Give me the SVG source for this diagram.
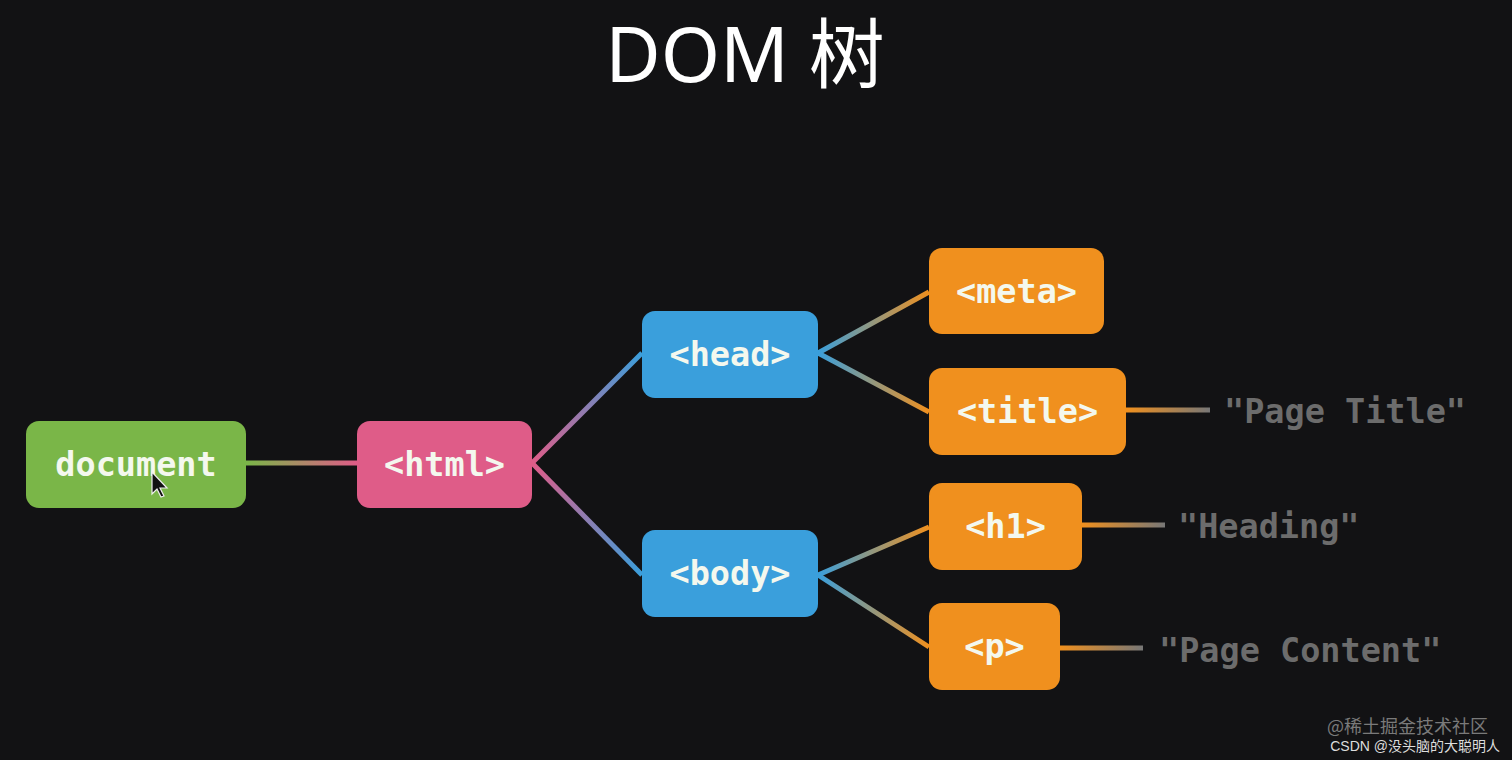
<svg xmlns="http://www.w3.org/2000/svg" width="1512" height="760" viewBox="0 0 1512 760">
<style>
.node text{font-family:"DejaVu Sans Mono","Liberation Mono",monospace;font-weight:bold;font-size:33.5px;fill:#f4f8ee;text-anchor:middle;dominant-baseline:central}
.leaf{font-family:"DejaVu Sans Mono","Liberation Mono",monospace;font-weight:bold;font-size:33.5px;fill:#6c6c6c;dominant-baseline:central}
.conn line{stroke-width:5;stroke-linecap:butt}
</style>
<defs>
<linearGradient id="g1" gradientUnits="userSpaceOnUse" x1="246" y1="0" x2="357" y2="0"><stop offset="0" stop-color="#7ab648"/><stop offset="1" stop-color="#df5c88"/></linearGradient>
<linearGradient id="g2" gradientUnits="userSpaceOnUse" x1="532" y1="463" x2="642" y2="353"><stop offset="0" stop-color="#df5c88"/><stop offset="1" stop-color="#3a9fdc"/></linearGradient>
<linearGradient id="g3" gradientUnits="userSpaceOnUse" x1="532" y1="463" x2="642" y2="575"><stop offset="0" stop-color="#df5c88"/><stop offset="1" stop-color="#3a9fdc"/></linearGradient>
<linearGradient id="gbo" gradientUnits="userSpaceOnUse" x1="818" y1="0" x2="929" y2="0"><stop offset="0" stop-color="#3a9fdc"/><stop offset="1" stop-color="#f0901e"/></linearGradient>
<linearGradient id="gt" gradientUnits="userSpaceOnUse" x1="1126" y1="0" x2="1210" y2="0"><stop offset="0" stop-color="#f0901e"/><stop offset="1" stop-color="#777"/></linearGradient>
<linearGradient id="gh" gradientUnits="userSpaceOnUse" x1="1082" y1="0" x2="1165" y2="0"><stop offset="0" stop-color="#f0901e"/><stop offset="1" stop-color="#777"/></linearGradient>
<linearGradient id="gp" gradientUnits="userSpaceOnUse" x1="1060" y1="0" x2="1143" y2="0"><stop offset="0" stop-color="#f0901e"/><stop offset="1" stop-color="#777"/></linearGradient>
</defs>
<rect width="1512" height="760" fill="#121214"/>
<text x="745" y="82" font-family="'Noto Sans','Noto Sans CJK SC',sans-serif" font-size="76" fill="#ffffff" text-anchor="middle">DOM 树</text>
<g class="conn" id="connectors">
<line x1="246" y1="463" x2="357" y2="463" stroke="url(#g1)"/>
<line x1="532" y1="463" x2="642" y2="353" stroke="url(#g2)"/>
<line x1="532" y1="463" x2="642" y2="575" stroke="url(#g3)"/>
<line x1="818" y1="353" x2="929" y2="292" stroke="url(#gbo)"/>
<line x1="818" y1="353" x2="929" y2="412" stroke="url(#gbo)"/>
<line x1="818" y1="575" x2="929" y2="527" stroke="url(#gbo)"/>
<line x1="818" y1="575" x2="929" y2="647" stroke="url(#gbo)"/>
<line x1="1126" y1="410" x2="1210" y2="410" stroke="url(#gt)"/>
<line x1="1082" y1="525" x2="1165" y2="525" stroke="url(#gh)"/>
<line x1="1060" y1="648" x2="1143" y2="648" stroke="url(#gp)"/>
</g>
<g class="node" id="document"><rect x="26" y="421" width="220" height="87" rx="13" fill="#7ab648"/><text x="136" y="464">document</text></g>
<g class="node" id="html"><rect x="357" y="421" width="175" height="87" rx="13" fill="#df5c88"/><text x="444.5" y="464">&lt;html&gt;</text></g>
<g class="node" id="head"><rect x="642" y="311" width="176" height="87" rx="13" fill="#3a9fdc"/><text x="730" y="354">&lt;head&gt;</text></g>
<g class="node" id="body"><rect x="642" y="530" width="176" height="87" rx="13" fill="#3a9fdc"/><text x="730" y="573">&lt;body&gt;</text></g>
<g class="node" id="meta"><rect x="929" y="248" width="175" height="86" rx="13" fill="#f0901e"/><text x="1016.5" y="291">&lt;meta&gt;</text></g>
<g class="node" id="title"><rect x="929" y="368" width="197" height="87" rx="13" fill="#f0901e"/><text x="1027.5" y="411">&lt;title&gt;</text></g>
<g class="node" id="h1"><rect x="929" y="483" width="153" height="87" rx="13" fill="#f0901e"/><text x="1005.5" y="526">&lt;h1&gt;</text></g>
<g class="node" id="p"><rect x="929" y="603" width="131" height="87" rx="13" fill="#f0901e"/><text x="994.5" y="646">&lt;p&gt;</text></g>
<g id="leaf-title"><text class="leaf" x="1224" y="411">"Page Title"</text></g>
<g id="leaf-heading"><text class="leaf" x="1178" y="526">"Heading"</text></g>
<g id="leaf-content"><text class="leaf" x="1159" y="650">"Page Content"</text></g>
<path d="M152 472 L152 494 L157 489 L161 497 L164 496 L160 488 L167 488 Z" fill="#111" stroke="#eee" stroke-width="1.2"/>
<text x="1488" y="733" font-family="'Noto Sans CJK SC',sans-serif" font-size="18" fill="#7a7a7a" text-anchor="end">@稀土掘金技术社区</text>
<text x="1500" y="751" font-family="'Liberation Sans','Noto Sans CJK SC',sans-serif" font-size="14" fill="#dddddd" text-anchor="end">CSDN @没头脑的大聪明人</text>
</svg>
